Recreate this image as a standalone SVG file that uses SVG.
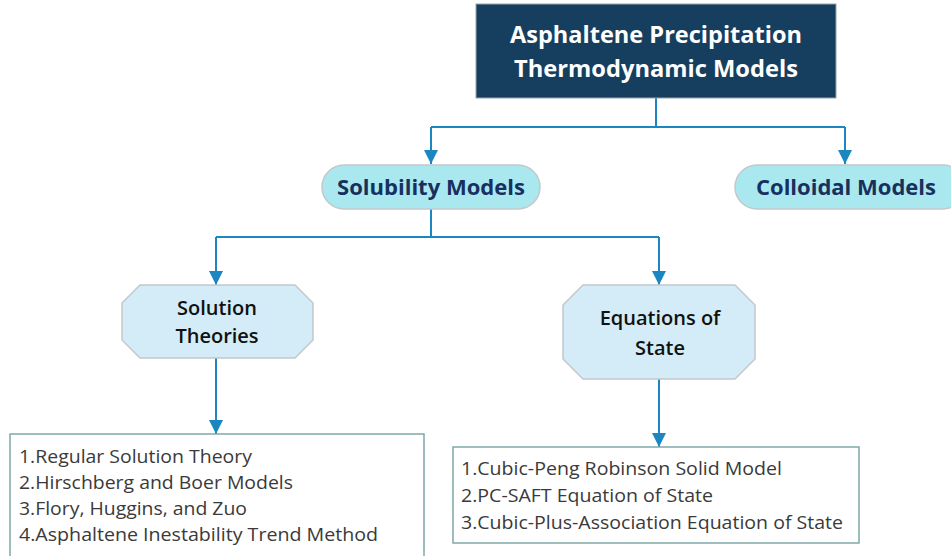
<svg xmlns="http://www.w3.org/2000/svg" width="951" height="556" viewBox="0 0 951 556">
  <defs>
    <marker id="arrow" viewBox="0 0 14 14" refX="14" refY="7" markerWidth="14" markerHeight="14" markerUnits="userSpaceOnUse" orient="auto">
      <path d="M0,0 L14,7 L0,14 Z" fill="#1b86bf"/>
    </marker>
    <style>
      .edge { fill: none; stroke: #1b86bf; stroke-width: 2; }
      .pill { fill: #a9e8ef; stroke: #c3c8ca; stroke-width: 1.5; }
      .oct { fill: #d3ecf7; stroke: #c3c8ca; stroke-width: 1.5; }
      .list { fill: #ffffff; stroke: #7ea9a8; stroke-width: 1.5; }
      .title { font-family: "Open Sans", "Liberation Sans", sans-serif; font-weight: 700; font-size: 23px; fill: #ffffff; text-anchor: middle; }
      .pilltxt { font-family: "Open Sans", "Liberation Sans", sans-serif; font-weight: 700; font-size: 21px; fill: #17305e; text-anchor: middle; }
      .octtxt { font-family: "Open Sans", "Liberation Sans", sans-serif; font-weight: 600; font-size: 20px; fill: #111111; text-anchor: middle; }
      .item { font-family: "Open Sans", "Liberation Sans", sans-serif; font-size: 18px; fill: #3a3a3a; }
    </style>
  </defs>

  <!-- connectors -->
  <g id="connectors">
    <path class="edge" d="M656,98 V127 M431,127 H845"/>
    <path class="edge" d="M431,127 V164" marker-end="url(#arrow)"/>
    <path class="edge" d="M845,127 V164" marker-end="url(#arrow)"/>
    <path class="edge" d="M431,209 V237 M216,237 H659"/>
    <path class="edge" d="M216,237 V285" marker-end="url(#arrow)"/>
    <path class="edge" d="M659,237 V285" marker-end="url(#arrow)"/>
    <path class="edge" d="M216,358 V434" marker-end="url(#arrow)"/>
    <path class="edge" d="M659,379 V447" marker-end="url(#arrow)"/>
  </g>

  <!-- root -->
  <g id="root">
    <rect x="476" y="4" width="360" height="94" fill="#163f5f" stroke="#9aa3a8" stroke-width="1"/>
    <text class="title" x="656" y="43" textLength="292" lengthAdjust="spacingAndGlyphs">Asphaltene Precipitation</text>
    <text class="title" x="656" y="77" textLength="284" lengthAdjust="spacingAndGlyphs">Thermodynamic Models</text>
  </g>

  <g id="solubility">
    <rect class="pill" x="322" y="165" width="218" height="44" rx="22" ry="22"/>
    <text class="pilltxt" x="431" y="195" textLength="188" lengthAdjust="spacingAndGlyphs">Solubility Models</text>
  </g>

  <g id="colloidal">
    <rect class="pill" x="735" y="165" width="230" height="44" rx="22" ry="22"/>
    <text class="pilltxt" x="846" y="195" textLength="180" lengthAdjust="spacingAndGlyphs">Colloidal Models</text>
  </g>

  <g id="solution-theories">
    <polygon class="oct" points="140,285 295,285 313,303 313,340 295,358 140,358 122,340 122,303"/>
    <text class="octtxt" x="217" y="315">Solution</text>
    <text class="octtxt" x="217" y="343">Theories</text>
  </g>

  <g id="equations-of-state">
    <polygon class="oct" points="583,285 735,285 755,305 755,359 735,379 583,379 563,359 563,305"/>
    <text class="octtxt" x="660" y="325">Equations of</text>
    <text class="octtxt" x="660" y="355">State</text>
  </g>

  <g id="solution-list">
    <rect class="list" x="10" y="434" width="414" height="130"/>
    <text class="item" x="19" y="463" textLength="233" lengthAdjust="spacingAndGlyphs">1.Regular Solution Theory</text>
    <text class="item" x="19" y="489" textLength="274" lengthAdjust="spacingAndGlyphs">2.Hirschberg and Boer Models</text>
    <text class="item" x="19" y="515" textLength="228" lengthAdjust="spacingAndGlyphs">3.Flory, Huggins, and Zuo</text>
    <text class="item" x="19" y="541" textLength="359" lengthAdjust="spacingAndGlyphs">4.Asphaltene Inestability Trend Method</text>
  </g>

  <g id="eos-list">
    <rect class="list" x="453" y="447" width="406" height="96"/>
    <text class="item" x="461" y="475" textLength="321" lengthAdjust="spacingAndGlyphs">1.Cubic-Peng Robinson Solid Model</text>
    <text class="item" x="461" y="502" textLength="252" lengthAdjust="spacingAndGlyphs">2.PC-SAFT Equation of State</text>
    <text class="item" x="461" y="529" textLength="382" lengthAdjust="spacingAndGlyphs">3.Cubic-Plus-Association Equation of State</text>
  </g>
</svg>
